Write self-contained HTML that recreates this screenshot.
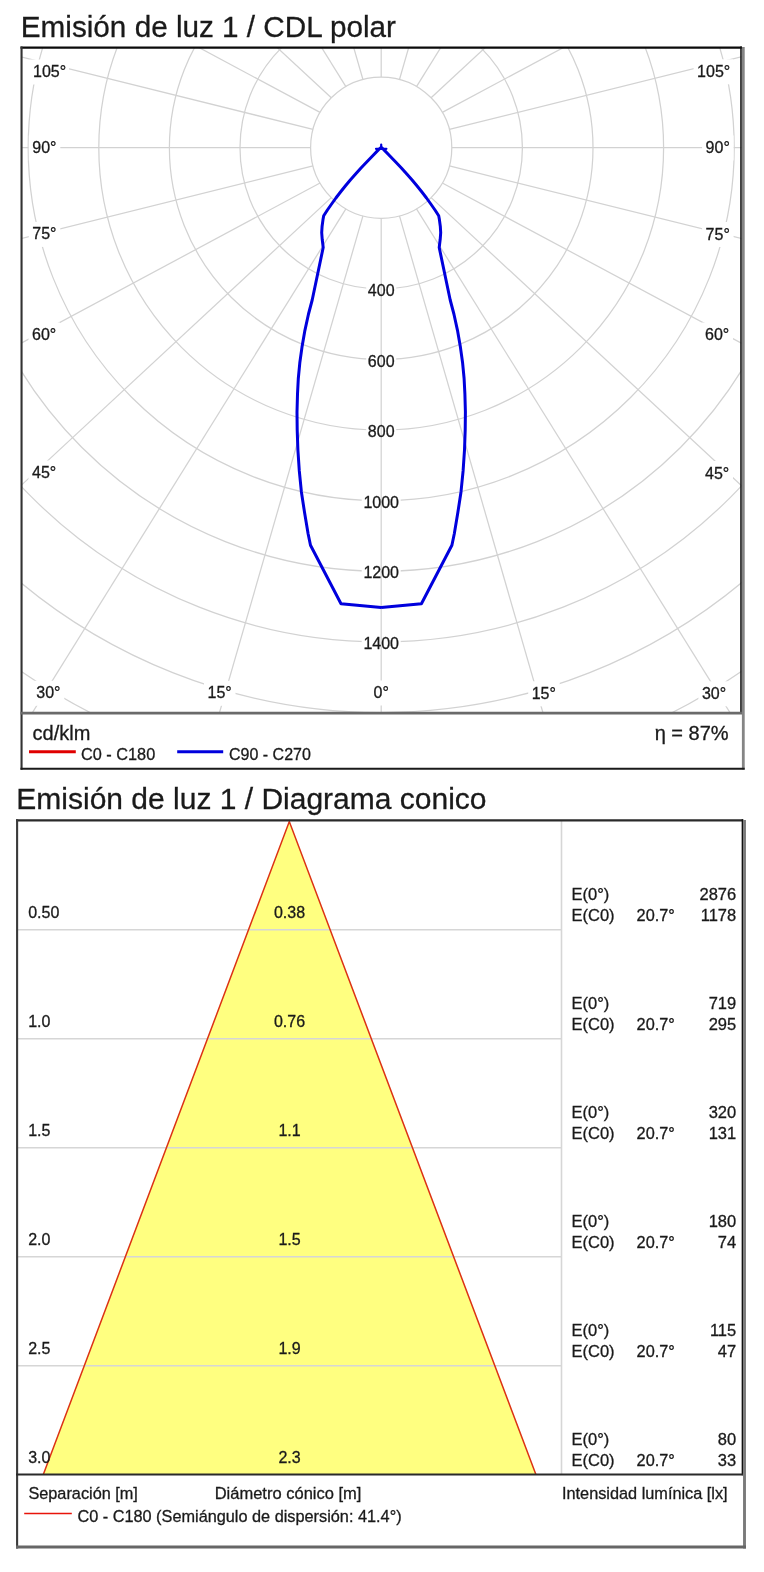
<!DOCTYPE html><html><head><meta charset="utf-8"><style>html,body{margin:0;padding:0;background:#fff;width:764px;height:1572px;overflow:hidden}svg{display:block;will-change:transform}text{font-family:"Liberation Sans",sans-serif;fill:#1a1a1a;stroke:#1a1a1a;stroke-width:0.3px}</style></head><body>
<svg width="764" height="1572" viewBox="0 0 764 1572">
<text x="20.8" y="37" font-size="29.7">Emisión de luz 1 / CDL polar</text>
<defs><clipPath id="pc"><rect x="21.5" y="47.5" width="720.0" height="665.7"/></clipPath></defs>
<g clip-path="url(#pc)">
<circle cx="381.2" cy="147.7" r="70.60" fill="none" stroke="#d2d2d2" stroke-width="1.25"/>
<circle cx="381.2" cy="147.7" r="141.20" fill="none" stroke="#d2d2d2" stroke-width="1.25"/>
<circle cx="381.2" cy="147.7" r="211.80" fill="none" stroke="#d2d2d2" stroke-width="1.25"/>
<circle cx="381.2" cy="147.7" r="282.40" fill="none" stroke="#d2d2d2" stroke-width="1.25"/>
<circle cx="381.2" cy="147.7" r="353.00" fill="none" stroke="#d2d2d2" stroke-width="1.25"/>
<circle cx="381.2" cy="147.7" r="423.60" fill="none" stroke="#d2d2d2" stroke-width="1.25"/>
<circle cx="381.2" cy="147.7" r="494.20" fill="none" stroke="#d2d2d2" stroke-width="1.25"/>
<circle cx="381.2" cy="147.7" r="564.80" fill="none" stroke="#d2d2d2" stroke-width="1.25"/>
<circle cx="381.2" cy="147.7" r="635.40" fill="none" stroke="#d2d2d2" stroke-width="1.25"/>
<circle cx="381.2" cy="147.7" r="706.00" fill="none" stroke="#d2d2d2" stroke-width="1.25"/>
<rect x="366.2" y="282.9" width="30" height="15" fill="#fff"/>
<rect x="366.2" y="353.5" width="30" height="15" fill="#fff"/>
<rect x="366.2" y="424.1" width="30" height="15" fill="#fff"/>
<rect x="361.7" y="494.7" width="39" height="15" fill="#fff"/>
<rect x="361.7" y="565.3" width="39" height="15" fill="#fff"/>
<rect x="361.7" y="635.9" width="39" height="15" fill="#fff"/>
<line x1="381.20" y1="218.30" x2="381.20" y2="1171.40" stroke="#d2d2d2" stroke-width="1.25"/>
<line x1="362.93" y1="215.89" x2="97.06" y2="1136.52" stroke="#d2d2d2" stroke-width="1.25"/>
<line x1="345.90" y1="208.84" x2="-167.72" y2="1034.25" stroke="#d2d2d2" stroke-width="1.25"/>
<line x1="331.28" y1="197.62" x2="-395.08" y2="871.57" stroke="#d2d2d2" stroke-width="1.25"/>
<line x1="320.06" y1="183.00" x2="-569.55" y2="659.55" stroke="#d2d2d2" stroke-width="1.25"/>
<line x1="313.01" y1="165.97" x2="-679.22" y2="412.65" stroke="#d2d2d2" stroke-width="1.25"/>
<line x1="310.60" y1="147.70" x2="-716.63" y2="147.70" stroke="#d2d2d2" stroke-width="1.25"/>
<line x1="313.01" y1="129.43" x2="-679.22" y2="-117.25" stroke="#d2d2d2" stroke-width="1.25"/>
<line x1="320.06" y1="112.40" x2="-569.55" y2="-364.15" stroke="#d2d2d2" stroke-width="1.25"/>
<line x1="331.28" y1="97.78" x2="-395.08" y2="-576.17" stroke="#d2d2d2" stroke-width="1.25"/>
<line x1="345.90" y1="86.56" x2="-167.72" y2="-738.85" stroke="#d2d2d2" stroke-width="1.25"/>
<line x1="362.93" y1="79.51" x2="97.06" y2="-841.12" stroke="#d2d2d2" stroke-width="1.25"/>
<line x1="381.20" y1="77.10" x2="381.20" y2="-876.00" stroke="#d2d2d2" stroke-width="1.25"/>
<line x1="399.47" y1="79.51" x2="665.34" y2="-841.12" stroke="#d2d2d2" stroke-width="1.25"/>
<line x1="416.50" y1="86.56" x2="930.12" y2="-738.85" stroke="#d2d2d2" stroke-width="1.25"/>
<line x1="431.12" y1="97.78" x2="1157.48" y2="-576.17" stroke="#d2d2d2" stroke-width="1.25"/>
<line x1="442.34" y1="112.40" x2="1331.95" y2="-364.15" stroke="#d2d2d2" stroke-width="1.25"/>
<line x1="449.39" y1="129.43" x2="1441.62" y2="-117.25" stroke="#d2d2d2" stroke-width="1.25"/>
<line x1="451.80" y1="147.70" x2="1479.03" y2="147.70" stroke="#d2d2d2" stroke-width="1.25"/>
<line x1="449.39" y1="165.97" x2="1441.62" y2="412.65" stroke="#d2d2d2" stroke-width="1.25"/>
<line x1="442.34" y1="183.00" x2="1331.95" y2="659.55" stroke="#d2d2d2" stroke-width="1.25"/>
<line x1="431.12" y1="197.62" x2="1157.48" y2="871.57" stroke="#d2d2d2" stroke-width="1.25"/>
<line x1="416.50" y1="208.84" x2="930.12" y2="1034.25" stroke="#d2d2d2" stroke-width="1.25"/>
<line x1="399.47" y1="215.89" x2="665.34" y2="1136.52" stroke="#d2d2d2" stroke-width="1.25"/>
<rect x="29.5" y="59.5" width="39.5" height="25" fill="#fff"/>
<rect x="28.8" y="135.5" width="31.5" height="25" fill="#fff"/>
<rect x="28.8" y="221.9" width="31.5" height="25" fill="#fff"/>
<rect x="28.5" y="322.5" width="31.5" height="25" fill="#fff"/>
<rect x="28.5" y="460.5" width="31.5" height="25" fill="#fff"/>
<rect x="32.8" y="680.8" width="31.5" height="25" fill="#fff"/>
<rect x="204.0" y="680.8" width="31.5" height="25" fill="#fff"/>
<rect x="370.0" y="680.5" width="23.5" height="25" fill="#fff"/>
<rect x="528.2" y="681.3" width="31.5" height="25" fill="#fff"/>
<rect x="698.4" y="681.3" width="31.5" height="25" fill="#fff"/>
<rect x="701.5" y="461.0" width="31.5" height="25" fill="#fff"/>
<rect x="701.5" y="322.5" width="31.5" height="25" fill="#fff"/>
<rect x="702.1" y="222.0" width="31.5" height="25" fill="#fff"/>
<rect x="702.1" y="135.5" width="31.5" height="25" fill="#fff"/>
<rect x="693.6" y="59.3" width="39.5" height="25" fill="#fff"/>
<text x="33.0" y="77.0" font-size="16">105°</text>
<text x="32.3" y="153.0" font-size="16">90°</text>
<text x="32.3" y="239.4" font-size="16">75°</text>
<text x="32.0" y="340.0" font-size="16">60°</text>
<text x="32.0" y="478.0" font-size="16">45°</text>
<text x="36.3" y="698.3" font-size="16">30°</text>
<text x="207.5" y="698.3" font-size="16">15°</text>
<text x="373.5" y="698.0" font-size="16">0°</text>
<text x="531.7" y="698.8" font-size="16">15°</text>
<text x="701.9" y="698.8" font-size="16">30°</text>
<text x="705.0" y="478.5" font-size="16">45°</text>
<text x="705.0" y="340.0" font-size="16">60°</text>
<text x="705.6" y="239.5" font-size="16">75°</text>
<text x="705.6" y="153.0" font-size="16">90°</text>
<text x="697.1" y="76.8" font-size="16">105°</text>
<text x="381.2" y="295.9" font-size="16" text-anchor="middle">400</text>
<text x="381.2" y="366.5" font-size="16" text-anchor="middle">600</text>
<text x="381.2" y="437.1" font-size="16" text-anchor="middle">800</text>
<text x="381.2" y="507.7" font-size="16" text-anchor="middle">1000</text>
<text x="381.2" y="578.3" font-size="16" text-anchor="middle">1200</text>
<text x="381.2" y="648.9" font-size="16" text-anchor="middle">1400</text>
<path d="M381.2,607.5 L341.0,603.7 L310.5,545.3 L308.1,533.8 L304.6,512.8 L301.4,491.9 L299.3,470.9 L297.9,450.0 L297.2,430.0 L297.0,412.0 L297.5,394.2 L298.3,378.5 L299.8,362.8 L302.0,347.1 L304.7,331.4 L308.5,314.0 L312.2,300.0 L323.2,247.5 L322.2,239.3 L321.7,232.7 L322.1,226.2 L323.0,219.6 L323.7,215.8 L327.4,210.0 L331.6,204.0 L335.9,198.0 L340.5,192.0 L345.3,186.0 L350.3,180.0 L355.6,174.0 L361.0,168.0 L366.7,162.0 L372.5,156.0 L378.6,149.6 L381.2,147.3 L383.8,149.6 L389.9,156.0 L395.7,162.0 L401.4,168.0 L406.8,174.0 L412.1,180.0 L417.1,186.0 L421.9,192.0 L426.5,198.0 L430.8,204.0 L435.0,210.0 L438.7,215.8 L439.4,219.6 L440.3,226.2 L440.7,232.7 L440.2,239.3 L439.2,247.5 L450.2,300.0 L453.9,314.0 L457.7,331.4 L460.4,347.1 L462.6,362.8 L464.1,378.5 L464.9,394.2 L465.4,412.0 L465.2,430.0 L464.5,450.0 L463.1,470.9 L461.0,491.9 L457.8,512.8 L454.3,533.8 L451.9,545.3 L421.4,603.7 L381.2,607.5" fill="none" stroke="#0000dd" stroke-width="3" stroke-linejoin="round"/>
<path d="M376,148.8 L386.4,148.8 M381.2,147.5 L381.2,144.6" stroke="#0000dd" stroke-width="2.2" stroke-linecap="round"/>
</g>
<line x1="20.5" y1="47.55" x2="742" y2="47.55" stroke="#0a0a0a" stroke-width="2.3"/>
<line x1="21.55" y1="46.4" x2="21.55" y2="769.7" stroke="#333" stroke-width="2.1"/>
<line x1="741" y1="46.4" x2="741" y2="714" stroke="#111" stroke-width="1.6"/>
<line x1="743.3" y1="47" x2="743.3" y2="769.5" stroke="#858585" stroke-width="2.8"/>
<line x1="20.5" y1="713.1" x2="742" y2="713.1" stroke="#6a6a6a" stroke-width="2.8"/>
<line x1="20.5" y1="768.75" x2="744.7" y2="768.75" stroke="#1a1a1a" stroke-width="1.9"/>
<text x="32.6" y="740" font-size="20">cd/klm</text>
<line x1="29" y1="751.8" x2="75.8" y2="751.8" stroke="#e00000" stroke-width="3"/>
<text x="81" y="760" font-size="16.3">C0 - C180</text>
<line x1="177.2" y1="751.8" x2="223.2" y2="751.8" stroke="#0000dd" stroke-width="3"/>
<text x="229" y="760" font-size="16">C90 - C270</text>
<text x="654.7" y="740" font-size="20">η = 87%</text>
<text x="16.3" y="809" font-size="30">Emisión de luz 1 / Diagrama conico</text>
<polygon points="289.3,821.6 43.2,1474.8 536,1474.8" fill="#ffff80"/>
<line x1="17.3" y1="929.72" x2="561.5" y2="929.72" stroke="#d6d6d6" stroke-width="1.6"/>
<line x1="17.3" y1="1038.73" x2="561.5" y2="1038.73" stroke="#d6d6d6" stroke-width="1.6"/>
<line x1="17.3" y1="1147.75" x2="561.5" y2="1147.75" stroke="#d6d6d6" stroke-width="1.6"/>
<line x1="17.3" y1="1256.77" x2="561.5" y2="1256.77" stroke="#d6d6d6" stroke-width="1.6"/>
<line x1="17.3" y1="1365.78" x2="561.5" y2="1365.78" stroke="#d6d6d6" stroke-width="1.6"/>
<line x1="561.5" y1="820.7" x2="561.5" y2="1474.8" stroke="#d6d6d6" stroke-width="1.6"/>
<polyline points="43.2,1474.8 289.3,821.6 536,1474.8" fill="none" stroke="#dc3214" stroke-width="1.5"/>
<text x="28.2" y="918.0" font-size="16">0.50</text>
<text x="289.5" y="918.0" font-size="16" text-anchor="middle">0.38</text>
<text x="571.5" y="899.6" font-size="16.5">E(0°)</text>
<text x="571.5" y="920.6" font-size="16.5">E(C0)</text>
<text x="636.6" y="920.6" font-size="16.3">20.7°</text>
<text x="736.2" y="899.6" font-size="16.5" text-anchor="end">2876</text>
<text x="736.2" y="920.6" font-size="16.5" text-anchor="end">1178</text>
<text x="28.2" y="1027.0" font-size="16">1.0</text>
<text x="289.5" y="1027.0" font-size="16" text-anchor="middle">0.76</text>
<text x="571.5" y="1008.6" font-size="16.5">E(0°)</text>
<text x="571.5" y="1029.6" font-size="16.5">E(C0)</text>
<text x="636.6" y="1029.6" font-size="16.3">20.7°</text>
<text x="736.2" y="1008.6" font-size="16.5" text-anchor="end">719</text>
<text x="736.2" y="1029.6" font-size="16.5" text-anchor="end">295</text>
<text x="28.2" y="1136.0" font-size="16">1.5</text>
<text x="289.5" y="1136.0" font-size="16" text-anchor="middle">1.1</text>
<text x="571.5" y="1117.6" font-size="16.5">E(0°)</text>
<text x="571.5" y="1138.6" font-size="16.5">E(C0)</text>
<text x="636.6" y="1138.6" font-size="16.3">20.7°</text>
<text x="736.2" y="1117.6" font-size="16.5" text-anchor="end">320</text>
<text x="736.2" y="1138.6" font-size="16.5" text-anchor="end">131</text>
<text x="28.2" y="1245.0" font-size="16">2.0</text>
<text x="289.5" y="1245.0" font-size="16" text-anchor="middle">1.5</text>
<text x="571.5" y="1226.7" font-size="16.5">E(0°)</text>
<text x="571.5" y="1247.7" font-size="16.5">E(C0)</text>
<text x="636.6" y="1247.7" font-size="16.3">20.7°</text>
<text x="736.2" y="1226.7" font-size="16.5" text-anchor="end">180</text>
<text x="736.2" y="1247.7" font-size="16.5" text-anchor="end">74</text>
<text x="28.2" y="1354.1" font-size="16">2.5</text>
<text x="289.5" y="1354.1" font-size="16" text-anchor="middle">1.9</text>
<text x="571.5" y="1335.7" font-size="16.5">E(0°)</text>
<text x="571.5" y="1356.7" font-size="16.5">E(C0)</text>
<text x="636.6" y="1356.7" font-size="16.3">20.7°</text>
<text x="736.2" y="1335.7" font-size="16.5" text-anchor="end">115</text>
<text x="736.2" y="1356.7" font-size="16.5" text-anchor="end">47</text>
<text x="28.2" y="1463.1" font-size="16">3.0</text>
<text x="289.5" y="1463.1" font-size="16" text-anchor="middle">2.3</text>
<text x="571.5" y="1444.7" font-size="16.5">E(0°)</text>
<text x="571.5" y="1465.7" font-size="16.5">E(C0)</text>
<text x="636.6" y="1465.7" font-size="16.3">20.7°</text>
<text x="736.2" y="1444.7" font-size="16.5" text-anchor="end">80</text>
<text x="736.2" y="1465.7" font-size="16.5" text-anchor="end">33</text>
<line x1="16" y1="820.4" x2="743.3" y2="820.4" stroke="#2a2a2a" stroke-width="2.3"/>
<line x1="17.1" y1="819.2" x2="17.1" y2="1548.6" stroke="#3a3a3a" stroke-width="2.1"/>
<line x1="742.4" y1="819.2" x2="742.4" y2="1475.3" stroke="#111" stroke-width="1.5"/>
<line x1="744.5" y1="820" x2="744.5" y2="1548.6" stroke="#7a7a7a" stroke-width="2.9"/>
<line x1="16" y1="1474.5" x2="743" y2="1474.5" stroke="#2a2a2a" stroke-width="1.8"/>
<line x1="16" y1="1547" x2="746" y2="1547" stroke="#666" stroke-width="2.9"/>
<text x="28.4" y="1499" font-size="16.3">Separación [m]</text>
<text x="214.7" y="1499" font-size="16.5">Diámetro cónico [m]</text>
<text x="562" y="1499.2" font-size="16.3">Intensidad lumínica [lx]</text>
<line x1="24.2" y1="1513.5" x2="71.8" y2="1513.5" stroke="#e8140a" stroke-width="1.3"/>
<text x="77.4" y="1521.9" font-size="16.3">C0 - C180 (Semiángulo de dispersión: 41.4°)</text>
</svg></body></html>
